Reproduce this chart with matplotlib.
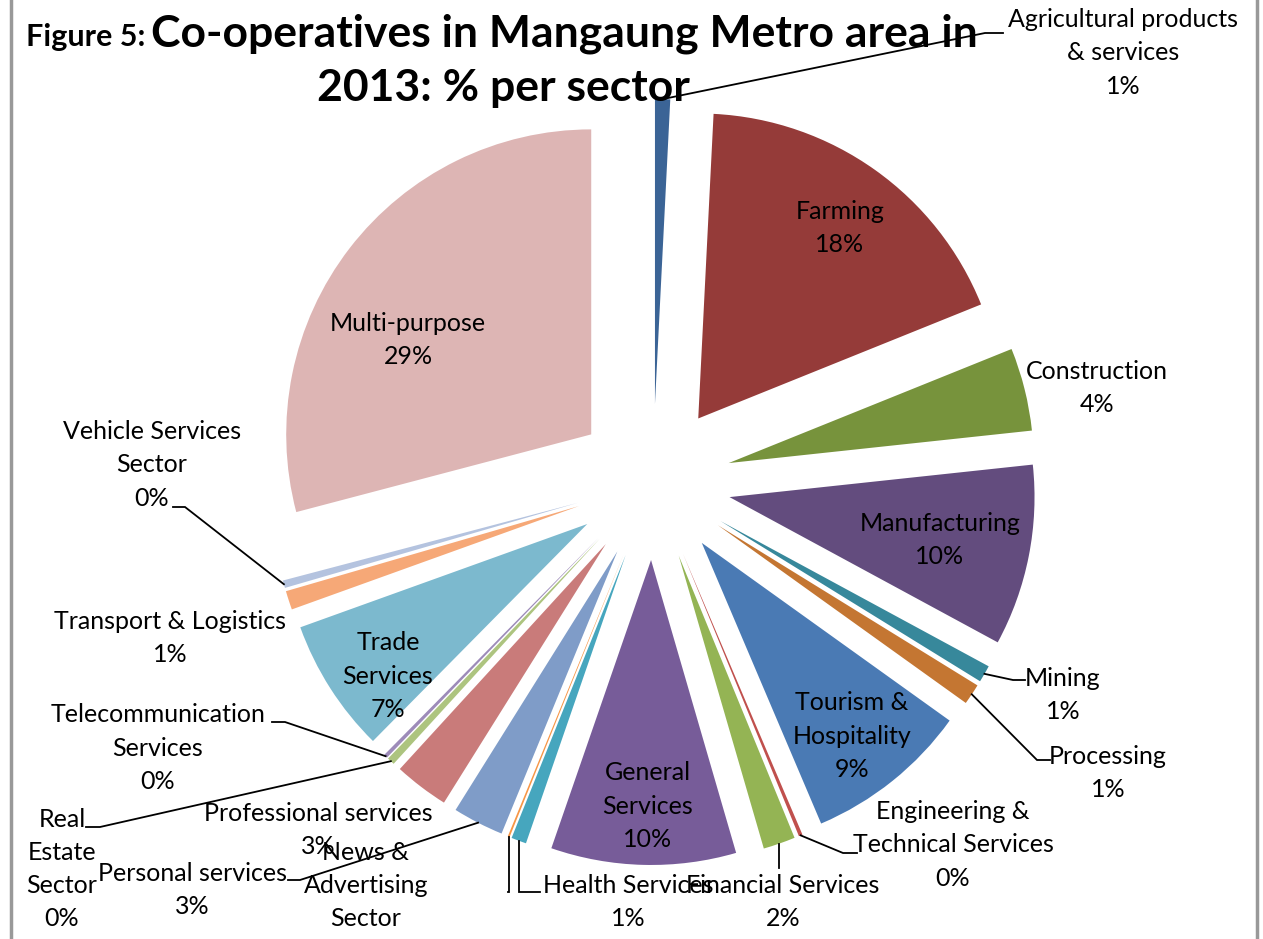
import matplotlib
matplotlib.use('Agg')
import matplotlib.pyplot as plt
import numpy as np

# sector shares (%) in drawing order, clockwise from 12 o'clock
sectors = ['Agricultural products & services', 'Farming', 'Construction', 'Manufacturing',
           'Mining', 'Processing', 'Tourism & Hospitality', 'Engineering & Technical Services',
           'Financial Services', 'General Services', 'Health Services',
           'News & Advertising Sector', 'Personal services', 'Professional services',
           'Real Estate Sector', 'Telecommunication Services', 'Trade Services',
           'Transport & Logistics', 'Vehicle Services Sector', 'Multi-purpose']
shares = [0.8, 18.1, 4.4, 9.6, 0.9, 1.1, 8.7, 0.2, 1.7, 9.8, 0.8,
          0.1, 2.7, 2.9, 0.4, 0.2, 7.1, 1.0, 0.4, 29.1]
colors = ['#3B6496', '#953B39', '#77933C', '#634C7E', '#37889B', '#C47632',
          '#4A7AB4', '#C0504D', '#94B454', '#775C99', '#46A6BE', '#F79646',
          '#7F9CC8', '#C97B7A', '#ADC47F', '#9D8BB9', '#7CB9CE', '#F6A877',
          '#B4C3DF', '#DDB5B4']

# how each label is wrapped
wrapped = {
    'Agricultural products & services': 'Agricultural products\n& services',
    'Tourism & Hospitality': 'Tourism &\nHospitality',
    'Engineering & Technical Services': 'Engineering &\nTechnical Services',
    'General Services': 'General\nServices',
    'News & Advertising Sector': 'News &\nAdvertising\nSector',
    'Real Estate Sector': 'Real\nEstate\nSector',
    'Telecommunication Services': 'Telecommunication\nServices',
    'Trade Services': 'Trade\nServices',
    'Vehicle Services Sector': 'Vehicle Services\nSector',
}

W, H = 1263, 939
# label centre positions in image pixels (y down)
label_pos = {
    'Agricultural products & services': (1123, 53), 'Farming': (840, 228),
    'Construction': (1097, 388), 'Manufacturing': (940, 540), 'Mining': (1063, 695),
    'Processing': (1108, 773), 'Tourism & Hospitality': (852, 736),
    'Engineering & Technical Services': (953, 845), 'Financial Services': (783, 902),
    'General Services': (648, 806), 'Health Services': (628, 902),
    'News & Advertising Sector': (366, 902), 'Personal services': (192, 890),
    'Professional services': (318, 830), 'Real Estate Sector': (62, 869),
    'Telecommunication Services': (158, 748), 'Trade Services': (388, 676),
    'Transport & Logistics': (170, 638), 'Vehicle Services Sector': (152, 465),
    'Multi-purpose': (408, 340),
}
# leader lines: (elbow x or None for vertical, elbow y, end x)
leaders = {
    'Agricultural products & services': (985, 33, 1003),
    'Mining': (1013, 680, 1025),
    'Processing': (1037, 760, 1050),
    'Engineering & Technical Services': (843, 853, 857),
    'Financial Services': (None, 868, None),
    'Health Services': (None, 892, 540),
    'News & Advertising Sector': (None, 892, 508),
    'Personal services': (300, 880, 288),
    'Real Estate Sector': (100, 827, 86),
    'Telecommunication Services': (285, 722, 272),
    'Vehicle Services Sector': (185, 507, 173),
}

plt.rcParams['font.family'] = ['Lato', 'DejaVu Sans']
fig = plt.figure(figsize=(W / 100, H / 100), dpi=100)
ax = fig.add_axes([0, 0, 1, 1])

cx, cy, R = 653, H - 482, 305
# explode offset is in data units (pixels here)
wedges, _ = ax.pie(shares, colors=colors, startangle=90, counterclock=False,
                   explode=[78] * len(shares), radius=R, center=(cx, cy),
                   wedgeprops=dict(linewidth=0), frame=True)
ax.set_xlim(0, W)
ax.set_ylim(0, H)
ax.set_aspect('auto')
ax.axis('off')

for name, v, w in zip(sectors, shares, wedges):
    txt = '%s\n%d%%' % (wrapped.get(name, name), round(v))
    x, y = label_pos[name]
    ax.text(x, H - y, txt, ha='center', va='center', multialignment='center',
            fontsize=18, linespacing=1.53, color='#000000')
    if name in leaders:
        ex, ey, endx = leaders[name]
        th = np.deg2rad((w.theta1 + w.theta2) / 2)
        ax0 = w.center[0] + R * np.cos(th)
        ay0 = w.center[1] + R * np.sin(th)
        if ex is None:
            ex = ax0
        xs = [ax0, ex] + ([endx] if endx is not None else [])
        ys = [ay0, H - ey] + ([H - ey] if endx is not None else [])
        ax.plot(xs, ys, color='black', lw=1.3, solid_joinstyle='miter')

# title
fig.text(145 / W, 1 - 46 / H, 'Figure 5:', ha='right', va='baseline',
         fontsize=22, fontweight='bold')
fig.text(151 / W, 1 - 46 / H, 'Co-operatives in Mangaung Metro area in', ha='left',
         va='baseline', fontsize=32, fontweight='bold')
fig.text(503 / W, 1 - 101 / H, '2013: % per sector', ha='center', va='baseline',
         fontsize=32, fontweight='bold')

# chart area border
for bx in (11, 1257):
    fig.add_artist(plt.Line2D([bx / W, bx / W], [0, 1], color='#999999', lw=2.5))

fig.savefig('out.png', dpi=100, facecolor='white')
